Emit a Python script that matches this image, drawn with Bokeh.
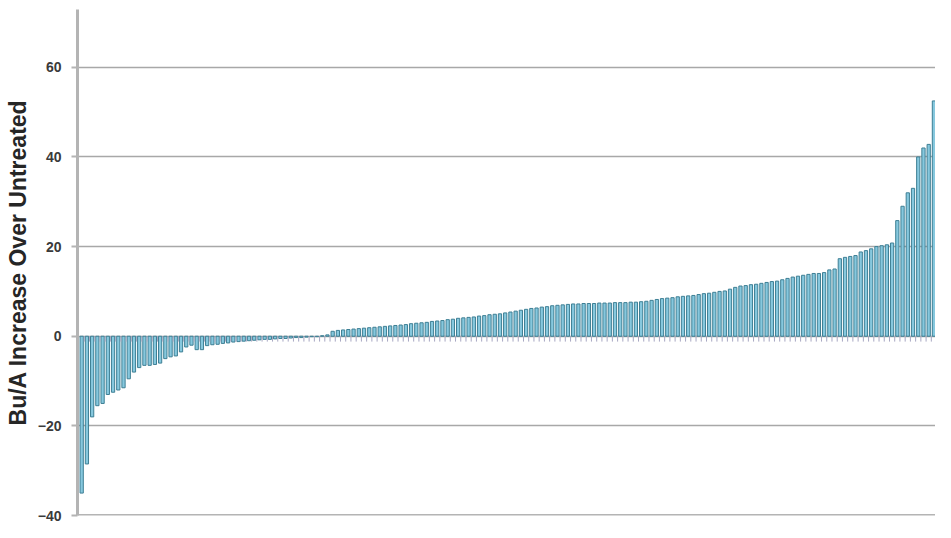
from bokeh.plotting import figure
from bokeh.models import FixedTicker, Range1d, Span
from bokeh.embed import file_html
from bokeh.resources import INLINE

# Sorted per-site yield response (Bu/A increase over untreated)
values = [
    -35.0, -28.5, -18.0, -15.5, -15.0, -13.0, -12.5, -12.0, -11.5, -9.5,
    -8.0, -7.0, -6.5, -6.5, -6.3, -6.0, -5.0, -4.6, -4.4, -3.5,
    -2.4, -2.0, -3.0, -3.0, -2.1, -1.9, -1.8, -1.6, -1.5, -1.3,
    -1.2, -1.1, -1.0, -0.9, -0.8, -0.7, -0.7, -0.6, -0.5, -0.5,
    -0.4, -0.3, -0.3, -0.2, -0.1, -0.1, 0.1, 0.3, 1.1, 1.3,
    1.4, 1.5, 1.6, 1.7, 1.8, 1.9, 2.0, 2.1, 2.2, 2.3,
    2.4, 2.5, 2.6, 2.8, 2.9, 3.0, 3.1, 3.3, 3.4, 3.5,
    3.7, 3.8, 4.0, 4.1, 4.2, 4.3, 4.5, 4.6, 4.8, 4.9,
    5.0, 5.2, 5.4, 5.6, 5.8, 6.0, 6.2, 6.3, 6.5, 6.6,
    6.8, 6.9, 7.0, 7.1, 7.2, 7.2, 7.3, 7.3, 7.3, 7.4,
    7.4, 7.4, 7.5, 7.5, 7.5, 7.6, 7.6, 7.7, 7.8, 8.0,
    8.2, 8.4, 8.5, 8.6, 8.8, 8.9, 9.0, 9.1, 9.3, 9.5,
    9.6, 9.8, 10.0, 10.1, 10.5, 10.9, 11.2, 11.3, 11.5, 11.6,
    11.8, 12.0, 12.2, 12.3, 12.6, 12.9, 13.2, 13.4, 13.6, 13.8,
    14.0, 14.0, 14.2, 14.8, 15.0, 17.3, 17.6, 17.8, 18.0, 18.8,
    19.1, 19.5, 20.0, 20.2, 20.4, 20.8, 25.8, 29.0, 32.0, 33.0,
    40.0, 42.0, 42.8, 52.5,
]
sites = list(range(len(values)))
y_ticks = [-40, -20, 0, 20, 40, 60]
y_label = "Bu/A Increase Over Untreated"

p = figure(
    width=935, height=522,
    output_backend="svg", toolbar_location=None,
    x_range=Range1d(-0.8, len(values) - 0.7),
    y_range=Range1d(-40, 72.9),
    x_axis_location=None,
    min_border_left=77, min_border_right=0,
    min_border_top=9, min_border_bottom=7,
)
p.outline_line_color = None
p.background_fill_color = "white"
p.border_fill_color = "white"

# bars
p.vbar(x=sites, top=values, bottom=0, width=0.62,
       fill_color="#86c8de", line_color="#3e7f94", line_width=1)

# small category tick marks under the zero line
p.segment(x0=[s + 0.5 for s in sites], y0=[0] * len(sites),
          x1=[s + 0.5 for s in sites], y1=[-1.2] * len(sites),
          line_color="#a7a7c2", line_width=1)

# y axis
p.yaxis.ticker = FixedTicker(ticks=y_ticks)
p.yaxis.axis_label = y_label
p.yaxis.axis_label_text_font = "Liberation Sans"
p.yaxis.axis_label_text_font_style = "bold"
p.yaxis.axis_label_text_font_size = "23px"
p.yaxis.axis_label_text_color = "#262626"
p.yaxis.axis_label_standoff = 4
p.yaxis.major_label_text_font = "Liberation Sans"
p.yaxis.major_label_text_font_style = "bold"
p.yaxis.major_label_text_font_size = "14px"
p.yaxis.major_label_text_color = "#3a3a3a"
p.yaxis.major_label_standoff = 10
p.yaxis.axis_line_color = "#b4b4b4"
p.yaxis.axis_line_width = 3
p.yaxis.major_tick_line_color = "#b4b4b4"
p.yaxis.major_tick_line_width = 2
p.yaxis.major_tick_out = 6
p.yaxis.major_tick_in = 0
p.yaxis.minor_tick_line_color = None

# bottom baseline
p.add_layout(Span(location=y_ticks[0], dimension="width",
                  line_color="#b4b4b4", line_width=3))

# grid
p.xgrid.grid_line_color = None
p.ygrid.ticker = FixedTicker(ticks=y_ticks)
p.ygrid.grid_line_color = "#a8a8a8"
p.ygrid.grid_line_width = 1.5

open("out.html", "w").write(file_html(p, INLINE))
